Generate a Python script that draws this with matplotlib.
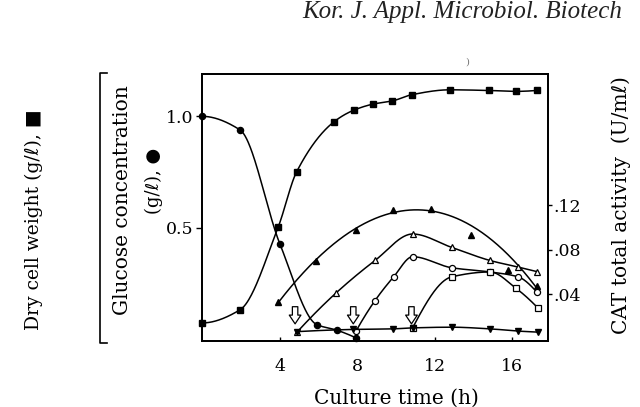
import numpy as np
import matplotlib
matplotlib.use("Agg")
import matplotlib.pyplot as plt
from matplotlib.lines import Line2D

# ---------------- data ----------------
t_glucose = [0.0, 1.96, 4.02, 5.91, 6.94, 7.92]
glucose = [1.0, 0.939, 0.426, 0.065, 0.040, 0.006]

t_dcw = [0.0, 1.96, 3.93, 4.88, 6.80, 7.84, 8.83, 9.82, 10.81, 12.78, 14.80, 16.20, 17.25]
dcw = [0.072, 0.131, 0.503, 0.751, 0.975, 1.028, 1.055, 1.069, 1.097, 1.119, 1.116, 1.112, 1.116]

# CAT total activity (U/ml), right axis
t_cat_a = [3.93, 5.88, 7.92, 9.85, 11.80, 13.85, 15.79, 17.25]          # filled up-triangles
cat_a = [0.0336, 0.0699, 0.0976, 0.1155, 0.1171, 0.0935, 0.0617, 0.0475]
t_cat_b = [4.90, 6.89, 8.92, 10.86, 12.87, 14.85, 16.30, 17.25]         # open up-triangles
cat_b = [0.0062, 0.0410, 0.0705, 0.0943, 0.0823, 0.0705, 0.0646, 0.0606]
t_cat_c = [7.94, 8.92, 9.88, 10.86, 12.87, 14.85, 16.30, 17.25]         # open circles
cat_c = [0.0071, 0.0345, 0.0558, 0.0739, 0.0640, 0.0602, 0.0558, 0.0425]
t_cat_d = [10.86, 12.87, 14.85, 16.20, 17.33]                           # open squares
cat_d = [0.0100, 0.0558, 0.0602, 0.0454, 0.0277]
t_cat_e = [4.88, 7.80, 9.86, 10.86, 12.87, 14.85, 16.30, 17.30]         # filled down-triangles
cat_e = [0.0066, 0.0086, 0.0091, 0.0100, 0.0106, 0.0091, 0.0071, 0.0062]

arrow_times = [4.8, 7.8, 10.8]

x_ticks = [4, 8, 12, 16]
x_ticklabels = ["4", "8", "12", "16"]
left_ticks = [0.5, 1.0]
left_ticklabels = ["0.5", "1.0"]
right_ticks = [0.04, 0.08, 0.12]
right_ticklabels = [".04", ".08", ".12"]


def pchip(x, y, xn):
    x = np.asarray(x, float)
    y = np.asarray(y, float)
    h = np.diff(x)
    d = np.diff(y) / h
    n = len(x)
    m = np.zeros(n)
    for k in range(1, n - 1):
        if d[k - 1] * d[k] > 0:
            w1 = 2 * h[k] + h[k - 1]
            w2 = h[k] + 2 * h[k - 1]
            m[k] = (w1 + w2) / (w1 / d[k - 1] + w2 / d[k])

    def end(h0, h1, d0, d1):
        mm = ((2 * h0 + h1) * d0 - h0 * d1) / (h0 + h1)
        if np.sign(mm) != np.sign(d0):
            mm = 0.0
        elif np.sign(d0) != np.sign(d1) and abs(mm) > abs(3 * d0):
            mm = 3 * d0
        return mm

    if n > 2:
        m[0] = end(h[0], h[1], d[0], d[1])
        m[-1] = end(h[-1], h[-2], d[-1], d[-2])
    else:
        m[:] = d[0]
    xn = np.asarray(xn, float)
    idx = np.clip(np.searchsorted(x, xn) - 1, 0, n - 2)
    hh = h[idx]
    s = (xn - x[idx]) / hh
    h00 = 2 * s**3 - 3 * s**2 + 1
    h10 = s**3 - 2 * s**2 + s
    h01 = -2 * s**3 + 3 * s**2
    h11 = s**3 - s**2
    return h00 * y[idx] + h10 * hh * m[idx] + h01 * y[idx + 1] + h11 * hh * m[idx + 1]


serif = ["DejaVu Serif", "DejaVu Sans"]
lw = 1.1
ms = 4.4

fig = plt.figure(figsize=(6.4, 4.07), dpi=100)
W, H = 640.0, 407.0
ax = fig.add_axes([202 / W, 1 - 341 / H, 346 / W, 267 / H])
ax2 = ax.twinx()

ylo, yhi = -0.009, 1.19
ax.set_xlim(0, 17.84)
ax.set_ylim(ylo, yhi)
ax2.set_ylim(ylo * 0.2, yhi * 0.2)

# glucose
tt = np.linspace(t_glucose[0], t_glucose[-1], 300)
ax.plot(tt, pchip(t_glucose, glucose, tt), color="black", lw=lw)
ax.plot(t_glucose, glucose, "o", color="black", ms=ms, clip_on=False)

# dry cell weight
tt = np.linspace(t_dcw[0], t_dcw[-1], 400)
ax.plot(tt, pchip(t_dcw, dcw, tt), color="black", lw=lw)
ax.plot(t_dcw, dcw, "s", color="black", ms=ms, clip_on=False)

# filled triangles: smooth fitted curve
coef = np.polyfit(t_cat_a, cat_a, 3, w=[1, 1, 1, 1, 1, 0.4, 0.4, 1])
tt = np.linspace(t_cat_a[0], t_cat_a[-1], 300)
ax2.plot(tt, np.polyval(coef, tt), color="black", lw=lw)
ax2.plot(t_cat_a, cat_a, "^", color="black", ms=ms)

for tx, vy, mk in [(t_cat_b, cat_b, "^"), (t_cat_c, cat_c, "o"), (t_cat_d, cat_d, "s")]:
    tt = np.linspace(tx[0], tx[-1], 300)
    ax2.plot(tt, pchip(tx, vy, tt), color="black", lw=lw)
    ax2.plot(tx, vy, mk, mfc="white", mec="black", mew=0.9, ms=ms)

tt = np.linspace(t_cat_e[0], t_cat_e[-1], 300)
ax2.plot(tt, pchip(t_cat_e, cat_e, tt), color="black", lw=lw)
ax2.plot(t_cat_e, cat_e, "v", color="black", ms=ms)

# hollow arrows
for ta in arrow_times:
    ax.annotate("", xy=(ta, 0.068), xytext=(ta, 0.145),
                arrowprops=dict(arrowstyle="simple,head_length=0.45,head_width=0.6,tail_width=0.28",
                                fc="white", ec="black", lw=0.9, mutation_scale=14,
                                shrinkA=0, shrinkB=0))

# axes styling
for a in (ax, ax2):
    for sp in a.spines.values():
        sp.set_linewidth(1.3)
ax.set_xticks(x_ticks)
ax.set_xticklabels(x_ticklabels, family=serif, fontsize=12.5)
ax.tick_params(axis="x", direction="in", length=3, width=1, pad=12)
ax.set_yticks(left_ticks)
ax.set_yticklabels(left_ticklabels, family=serif, fontsize=12.5)
ax.tick_params(axis="y", direction="out", length=4, width=1, pad=2)
ax2.set_yticks(right_ticks)
ax2.set_yticklabels(right_ticklabels, family=serif, fontsize=12.5)
ax2.tick_params(axis="y", direction="out", length=3, width=1, pad=1)

# labels
fig.text(396 / W, 1 - 398 / H, "Culture time (h)", family=serif, fontsize=14.5,
         ha="center", va="center")
fig.text(34 / W, 1 - 220 / H, "Dry cell weight (g/\u2113), \u25a0", family=serif, fontsize=13.5,
         rotation=90, ha="center", va="center")
fig.text(123 / W, 1 - 200 / H, "Glucose concentration", family=serif, fontsize=14.5,
         rotation=90, ha="center", va="center")
fig.text(154 / W, 1 - 181 / H, "(g/\u2113), \u25cf", family=serif, fontsize=13,
         rotation=90, ha="center", va="center")
fig.text(621 / W, 1 - 205 / H, "CAT total activity  (U/m\u2113)", family=serif, fontsize=14.5,
         rotation=90, ha="center", va="center")

# bracket on the left
bx = 100 / W
yt, yb = 1 - 73 / H, 1 - 343 / H
fig.add_artist(Line2D([bx + 7 / W, bx, bx, bx + 7 / W], [yt, yt, yb, yb],
                      color="black", lw=1.2, transform=fig.transFigure))

# running header
fig.text(302 / W, 1 - 18 / H, "Kor. J. Appl. Microbiol. Biotech", family=["Liberation Serif"],
         fontstyle="italic", fontsize=18, ha="left", va="baseline", color="#222222")
fig.text(467 / W, 1 - 62 / H, ")", family=serif, fontsize=7, ha="center", va="center",
         color="#777777")

fig.savefig("out.png", dpi=100)
